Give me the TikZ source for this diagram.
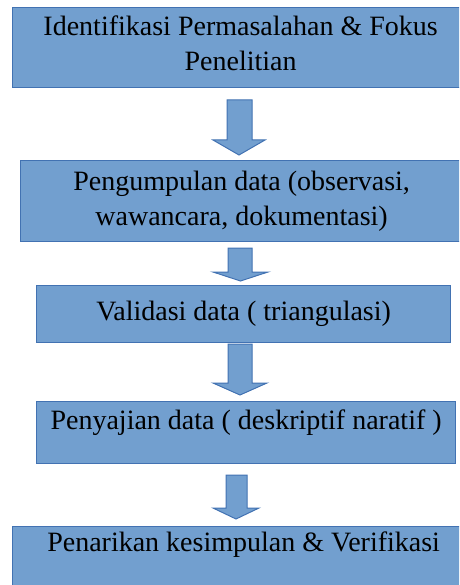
\documentclass[tikz,border=0pt]{standalone}
\usepackage{fontspec}
\setmainfont{Liberation Serif}
\usepackage{tikz}
\usetikzlibrary{calc}
\definecolor{boxfill}{RGB}{114,159,207}
\definecolor{boxline}{RGB}{66,114,178}
\tikzset{%Global config
	>=latex,
	%Styles
	Step/.style={
		draw=boxline,
		fill=boxfill,
		line width=1.2pt,
		anchor=north west,
		inner sep=0pt,
		align=center,
		font=\fontsize{28}{35}\selectfont,
	},
	BlockArrow/.style={
		draw=boxline,
		fill=boxfill,
		line width=1pt,
		line join=miter,
	}
}
\newcommand{\blockarrow}[7]{% x-left, x-right, y-top, y-head, y-tip, head-left, head-right
	\draw[BlockArrow] (#1,#3) -- (#2,#3) -- (#2,#4) -- (#7,#4) -- ($(#6,#5)!0.5!(#7,#5)$)
		-- (#6,#4) -- (#1,#4) -- cycle;
}

\begin{document}
\begin{tikzpicture}[x=1pt,y=-1pt]
	\useasboundingbox (0,0) rectangle (459,585);
	\clip (0,0) rectangle (459,585);
	% Steps
	\node[Step, minimum width=456pt, minimum height=80pt, text depth=8pt] at (12,7) (ident)
		{Identifikasi Permasalahan \& Fokus\\Penelitian};
	\node[Step, minimum width=442pt, minimum height=81pt] at (20,160) (kumpul)
		{Pengumpulan data (observasi,\\wawancara, dokumentasi)};
	\node[Step, minimum width=414pt, minimum height=57pt] at (36,285) (valid)
		{Validasi data ( triangulasi)};
	\node[Step, minimum width=419pt, minimum height=62pt] at (36,401) (saji)
		{Penyajian data ( deskriptif naratif )\\[-10pt]~};
	\node[Step, minimum width=462pt, minimum height=66pt] at (12,526) (tarik)
		{Penarikan kesimpulan \& Verifikasi\\~};
	% Arrows
	\blockarrow{227}{252}{100}{140}{155}{213}{265}
	\blockarrow{228}{252}{248}{272}{281}{213}{268}
	\blockarrow{228}{252}{344}{383}{395}{213}{267}
	\blockarrow{226}{247}{475}{508}{519}{213}{259}
\end{tikzpicture}
\end{document}
